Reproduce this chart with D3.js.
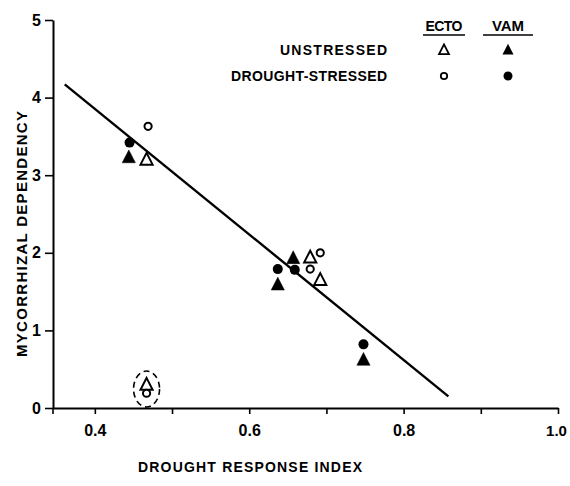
<!DOCTYPE html>
<html>
<head>
<meta charset="utf-8">
<script src="https://cdn.jsdelivr.net/npm/d3@7"></script>
<style>
  html, body { margin: 0; padding: 0; background: #fff; }
  svg { display: block; }
  text { font-family: "Liberation Sans", Arial, sans-serif; font-weight: bold; fill: #000; }
</style>
</head>
<body>
<svg id="chart" width="570" height="486"></svg>
<script>
// ---- Data ----
const ectoUnstressed = [ // open triangles
  { x: 0.467, y: 3.20 }, { x: 0.679, y: 1.94 }, { x: 0.692, y: 1.65 }, { x: 0.467, y: 0.30 }
];
const ectoDrought = [ // open circles
  { x: 0.469, y: 3.63 }, { x: 0.692, y: 2.00 }, { x: 0.679, y: 1.79 }, { x: 0.467, y: 0.19 }
];
const vamUnstressed = [ // filled triangles
  { x: 0.444, y: 3.23 }, { x: 0.657, y: 1.93 }, { x: 0.637, y: 1.59 }, { x: 0.748, y: 0.62 }
];
const vamDrought = [ // filled circles
  { x: 0.445, y: 3.42 }, { x: 0.637, y: 1.79 }, { x: 0.659, y: 1.78 }, { x: 0.748, y: 0.82 }
];
const regressionLine = [ { x: 0.361, y: 4.17 }, { x: 0.858, y: 0.15 } ];
const outlierGroup = { x: 0.467, y: 0.245 }; // dashed ellipse around excluded points
const xMajorTicks = [0.4, 0.6, 0.8, 1.0];
const xMajorLabels = ["0.4", "0.6", "0.8", "1.0"];
const xMinorTicks = [0.5, 0.7, 0.9];
const yTicks = [0, 1, 2, 3, 4, 5];
const yTickLabels = ["0", "1", "2", "3", "4", "5"];
const xTitle = "DROUGHT RESPONSE INDEX";
const yTitle = "MYCORRHIZAL DEPENDENCY";
const legendCols = ["ECTO", "VAM"];
const legendRows = ["UNSTRESSED", "DROUGHT-STRESSED"];

// ---- Layout ----
const svg = d3.select("#chart");
const mLeft = 53, mRight = 558, mTop = 20, mBottom = 408;
const x = d3.scaleLinear().domain([0.4 - 42 / 775, 1.0]).range([mLeft, mRight]);
const y = d3.scaleLinear().domain([0, 5]).range([mBottom, mTop]);

// Axes
const xAxisMajor = d3.axisBottom(x).tickValues(xMajorTicks)
  .tickFormat((d, i) => xMajorLabels[i]).tickSize(6).tickPadding(11).tickSizeOuter(0);
const gx = svg.append("g").attr("transform", `translate(0,${mBottom})`).call(xAxisMajor);
const gxMinor = svg.append("g").attr("transform", `translate(0,${mBottom})`)
  .call(d3.axisBottom(x).tickValues(xMinorTicks).tickFormat("").tickSize(6).tickSizeOuter(0));
gxMinor.select(".domain").remove();

const yAxis = d3.axisLeft(y).tickValues(yTicks)
  .tickFormat((d, i) => yTickLabels[i]).tickSize(8).tickPadding(4).tickSizeOuter(0);
const gy = svg.append("g").attr("transform", `translate(${mLeft},0)`).call(yAxis);

[gx, gxMinor, gy].forEach(g => {
  g.selectAll(".domain").attr("stroke", "#000").attr("stroke-width", 2);
  g.selectAll(".tick line").attr("stroke", "#000").attr("stroke-width", 1.6);
});
gx.selectAll(".tick text").style("font-size", "16px").style("font-family", "Liberation Sans, Arial, sans-serif").style("font-weight", "bold");
gx.selectAll(".tick text").filter(d => d === 1.0).attr("dx", "-2").style("font-size", "15px");
gy.selectAll(".tick text").style("font-size", "16px").style("font-family", "Liberation Sans, Arial, sans-serif").style("font-weight", "bold");
// y axis stub below x axis
svg.append("line").attr("x1", mLeft).attr("x2", mLeft).attr("y1", mBottom).attr("y2", mBottom + 6)
  .attr("stroke", "#000").attr("stroke-width", 1.6);

// Titles
svg.append("text").attr("x", 250).attr("y", 472).attr("text-anchor", "middle")
  .attr("textLength", 224).attr("lengthAdjust", "spacing")
  .style("font-size", "14px").text(xTitle);
svg.append("text").attr("transform", `translate(27,234) rotate(-90)`).attr("text-anchor", "middle")
  .attr("textLength", 246).attr("lengthAdjust", "spacing")
  .style("font-size", "15px").text(yTitle);

// Regression line
svg.append("line")
  .attr("x1", x(regressionLine[0].x)).attr("y1", y(regressionLine[0].y))
  .attr("x2", x(regressionLine[1].x)).attr("y2", y(regressionLine[1].y))
  .attr("stroke", "#000").attr("stroke-width", 2.4);

// Dashed ellipse
svg.append("ellipse").attr("cx", x(outlierGroup.x)).attr("cy", y(outlierGroup.y))
  .attr("rx", 13).attr("ry", 18).attr("fill", "none").attr("stroke", "#000")
  .attr("stroke-width", 1.6).attr("stroke-dasharray", "6,4");

// Marker helpers
const triPath = s => `M0,${-s * 0.62}L${s * 0.55},${s * 0.45}L${-s * 0.55},${s * 0.45}Z`;

function drawTri(data, filled, s) {
  svg.append("g").selectAll("path").data(data).join("path")
    .attr("transform", d => `translate(${x(d.x)},${y(d.y)})`)
    .attr("d", triPath(s))
    .attr("fill", filled ? "#000" : "#fff")
    .attr("stroke", "#000").attr("stroke-width", filled ? 0.5 : 2)
    .attr("stroke-linejoin", "miter");
}
function drawCircle(data, filled, r) {
  svg.append("g").selectAll("circle").data(data).join("circle")
    .attr("cx", d => x(d.x)).attr("cy", d => y(d.y)).attr("r", r)
    .attr("fill", filled ? "#000" : "#fff")
    .attr("stroke", "#000").attr("stroke-width", filled ? 0 : 2);
}
drawTri(ectoUnstressed, false, 11);
drawCircle(ectoDrought, false, 3.6);
drawTri(vamUnstressed, true, 12);
drawCircle(vamDrought, true, 5);

// Legend
const colX = [444, 508];
legendCols.forEach((t, i) => {
  const lbl = svg.append("text").attr("x", colX[i]).attr("y", 31).attr("text-anchor", "middle")
    .style("font-size", i === 0 ? "14px" : "15px").text(t);
  if (i === 0) lbl.attr("textLength", 37).attr("lengthAdjust", "spacing");
  svg.append("line").attr("x1", colX[i] - (i === 0 ? 21 : 25)).attr("x2", colX[i] + (i === 0 ? 21 : 25))
    .attr("y1", 35).attr("y2", 35).attr("stroke", "#000").attr("stroke-width", 1.6);
});
const rowY = [50, 76];
legendRows.forEach((t, i) => {
  svg.append("text").attr("x", 387).attr("y", rowY[i] + 5).attr("text-anchor", "end")
    .attr("textLength", i === 0 ? 107 : 156).attr("lengthAdjust", "spacing")
    .style("font-size", "14px").text(t);
});
svg.append("path").attr("transform", `translate(${colX[0]},${rowY[0]})`).attr("d", triPath(9))
  .attr("fill", "#fff").attr("stroke", "#000").attr("stroke-width", 1.8);
svg.append("path").attr("transform", `translate(${colX[1]},${rowY[0]})`).attr("d", triPath(10))
  .attr("fill", "#000");
svg.append("circle").attr("cx", colX[0]).attr("cy", rowY[1]).attr("r", 3.2)
  .attr("fill", "#fff").attr("stroke", "#000").attr("stroke-width", 1.8);
svg.append("circle").attr("cx", colX[1]).attr("cy", rowY[1]).attr("r", 4.5).attr("fill", "#000");
</script>
</body>
</html>
